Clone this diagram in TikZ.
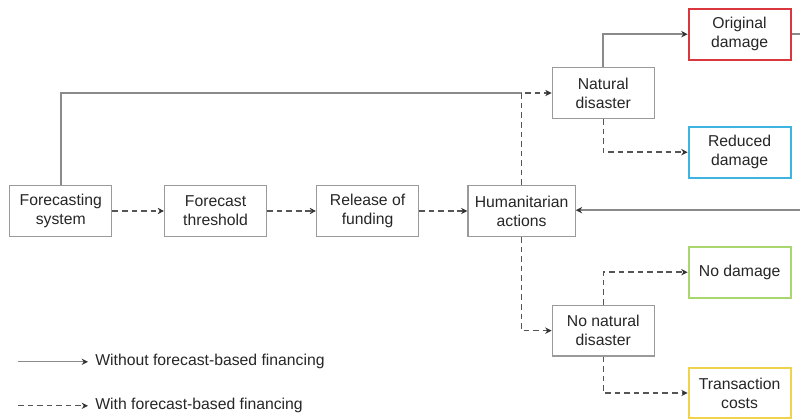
\documentclass[tikz,border=0pt]{standalone}
\usepackage{fontspec}
\setmainfont{Liberation Sans}
\usetikzlibrary{arrows.meta}
\usepackage{xcolor}
\definecolor{linegray}{HTML}{8A8A8A}
\definecolor{dashgray}{HTML}{555555}
\definecolor{boxgray}{HTML}{9A9A9A}
\definecolor{dmgred}{HTML}{D9363E}
\definecolor{dmgcyan}{HTML}{3DB5E0}
\definecolor{dmggreen}{HTML}{A9D66E}
\definecolor{dmgyellow}{HTML}{F0D34C}

\begin{document}
\begin{tikzpicture}[
  font=\fontsize{11.2}{13.6}\selectfont,
  box/.style={draw=boxgray, line width=0.9pt, fill=white, text=black!85,
    minimum width=2.55cm, minimum height=1.27cm, align=center, inner sep=2pt},
  cbox/.style={box, line width=1.4pt},
  plainline/.style={draw=linegray, line width=1.1pt},
  solidline/.style={plainline, -{Stealth[length=4.5pt,width=4.5pt,color=black!80]}},
  dashline/.style={solidline, draw=dashgray, line width=1pt, dash pattern=on 4pt off 2.8pt}
]
\useasboundingbox (0,0) rectangle (20,10.475);

\node[box] (fs) at (1.52,5.2) {Forecasting\\system};
\node[box] (ft) at (5.39,5.2) {Forecast\\threshold};
\node[box] (rf) at (9.19,5.2) {Release of\\funding};
\node[box, minimum width=2.68cm] (ha) at (13.04,5.2) {Humanitarian\\actions};
\node[box] (nd) at (15.08,8.15) {Natural\\disaster};
\node[box] (nnd) at (15.08,2.21) {No natural\\disaster};
\node[cbox, draw=dmgred] (od) at (18.49,9.62) {Original\\damage};
\node[cbox, draw=dmgcyan] (rd) at (18.49,6.67) {Reduced\\damage};
\node[cbox, draw=dmggreen] (ndm) at (18.49,3.67) {No damage};
\node[cbox, draw=dmgyellow] (tc) at (18.49,0.65) {Transaction\\costs};

\coordinate (jn) at (ha.north |- nd.west);
\coordinate (odout) at (20,9.62);
\coordinate (hain) at (20,5.22);

% without forecast-based financing
\draw[plainline] (fs.north) |- (jn);
\draw[solidline] (nd.north) |- (od.west);
\draw[plainline] (od.east) -- (odout);
\draw[solidline] (hain) -- (ha.east |- hain);

% with forecast-based financing
\draw[dashline] (fs.east) -- (ft.west);
\draw[dashline] (ft.east) -- (rf.west);
\draw[dashline] (rf.east) -- (ha.west);
\draw[dashline] (ha.north) |- (nd.west);
\draw[dashline] (ha.south) |- (nnd.west);
\draw[dashline] (nd.south) |- (rd.west);
\draw[dashline] (nnd.north) |- (ndm.west);
\draw[dashline] (nnd.south) |- (tc.west);

% legend
\coordinate (l1a) at (0.45,1.43);
\coordinate (l1b) at (2.2,1.43);
\coordinate (l2a) at (0.45,0.33);
\coordinate (l2b) at (2.2,0.33);
\draw[solidline, line width=0.9pt] (l1a) -- (l1b);
\draw[dashline, line width=0.9pt] (l2a) -- (l2b);
\node[right, text=black!85, inner sep=0pt, xshift=5pt] (lt1) at (l1b) {Without forecast-based financing};
\node[right, text=black!85, inner sep=0pt, xshift=5pt] (lt2) at (l2b) {With forecast-based financing};
\end{tikzpicture}
\end{document}
